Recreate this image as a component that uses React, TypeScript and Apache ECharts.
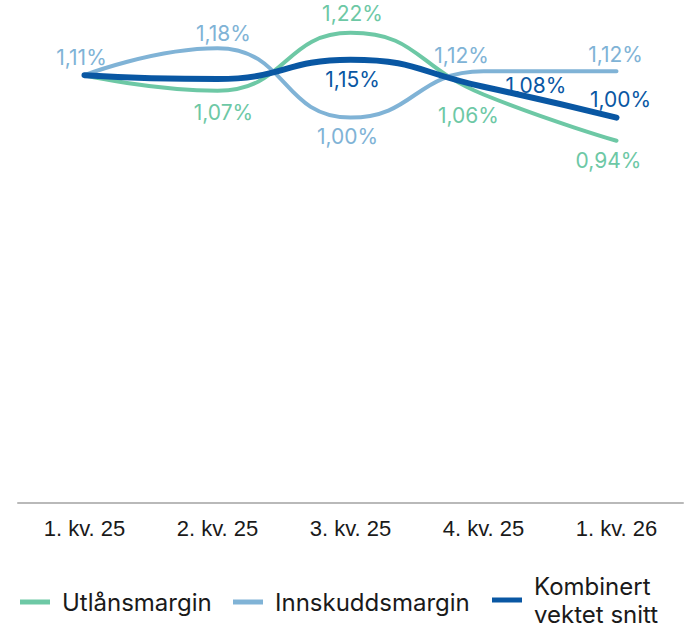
import React, { useEffect, useRef } from "react";
import * as echarts from "echarts";

const categories = ["1. kv. 25", "2. kv. 25", "3. kv. 25", "4. kv. 25", "1. kv. 26"];
const seriesNames = ["Utlånsmargin", "Innskuddsmargin", "Kombinert vektet snitt"];
const utlaan = [1.11, 1.07, 1.22, 1.06, 0.94];
const innskudd = [1.11, 1.18, 1.0, 1.12, 1.12];
const kombinert = [1.11, 1.1, 1.15, 1.08, 1.0];

const colors = ["#6dc8a5", "#80b3d6", "#0957a3"];
const widths = [4, 4, 6];

// label placement per point: [position, distance, dx, dy] or null for no label
type LP = [string, number, number, number] | null;
const utlaanLabels: LP[] = [null, ["bottom", 11, 6, 0], ["top", 9, 2, 0], ["bottom", 11, -15, 0], ["bottom", 9, -8, 0]];
const innskuddLabels: LP[] = [["top", 7, -3, 0], ["top", 4, 6, 0], ["bottom", 8, -3, 0], ["top", 5, -22, 0], ["top", 6, -1, 0]];
const kombinertLabels: LP[] = [null, null, ["bottom", 9, 2, 0], ["right", 22, 0, -1], ["top", 8, 4, 0]];

const fmt = (v: number) => v.toFixed(2).replace(".", ",") + "%";
const labelFont = "Inter";

function buildData(values: number[], lps: LP[], color: string) {
  return values.map((v, i) => {
    const lp = lps[i];
    if (!lp) return { value: v, label: { show: false } };
    return {
      value: v,
      label: {
        show: true,
        position: lp[0],
        distance: lp[1],
        offset: [lp[2], lp[3]],
        color,
        fontSize: 21,
        fontFamily: labelFont,
        formatter: (p: any) => fmt(p.value),
      },
    };
  });
}

export default function App() {
  const ref = useRef<HTMLDivElement>(null);
  useEffect(() => {
    if (!ref.current) return;
    const chart = echarts.init(ref.current, undefined, { renderer: "svg" });
    const all = [utlaan, innskudd, kombinert];
    const lbls = [utlaanLabels, innskuddLabels, kombinertLabels];
    const legendLefts = [15, 228, 487];
    const legendTops = [583, 583, 567];
    chart.setOption({
      animation: false,
      backgroundColor: "#ffffff",
      grid: { left: 18, right: 4, top: 2, bottom: 126, containLabel: false },
      xAxis: {
        type: "category",
        data: categories,
        boundaryGap: true,
        axisLine: { show: true, lineStyle: { color: "#b9b9b9", width: 2 } },
        axisTick: { show: false },
        axisLabel: {
          color: "#1a1a1a",
          fontSize: 22,
          fontFamily: "Liberation Sans",
          margin: 14,
        },
      },
      yAxis: {
        type: "value",
        min: 0,
        max: 1.3,
        show: false,
        splitLine: { show: false },
      },
      legend: seriesNames.map((n, i) => ({
        data: [n],
        left: legendLefts[i],
        top: legendTops[i],
        icon: "rect",
        itemWidth: 30,
        itemHeight: 5,
        selectedMode: false,
        formatter: (name: string) => name.replace("Kombinert vektet snitt", "Kombinert\nvektet snitt"),
        textStyle: {
          color: "#1a1a1a",
          fontSize: 24,
          fontFamily: labelFont,
          lineHeight: 28,
          padding: [0, 0, 0, 7],
        },
      })),
      series: seriesNames.map((n, i) => ({
        name: n,
        type: "line",
        smooth: 0.5,
        data: buildData(all[i], lbls[i], colors[i]),
        symbol: "circle",
        symbolSize: 0,
        showSymbol: true,
        itemStyle: { color: colors[i] },
        lineStyle: { color: colors[i], width: widths[i], cap: "round" },
        z: i === 2 ? 5 : 2,
      })),
    });
    return () => chart.dispose();
  }, []);
  return (
    <div
      ref={ref}
      style={{ position: "fixed", left: 0, top: 0, width: 687, height: 629 }}
    />
  );
}
